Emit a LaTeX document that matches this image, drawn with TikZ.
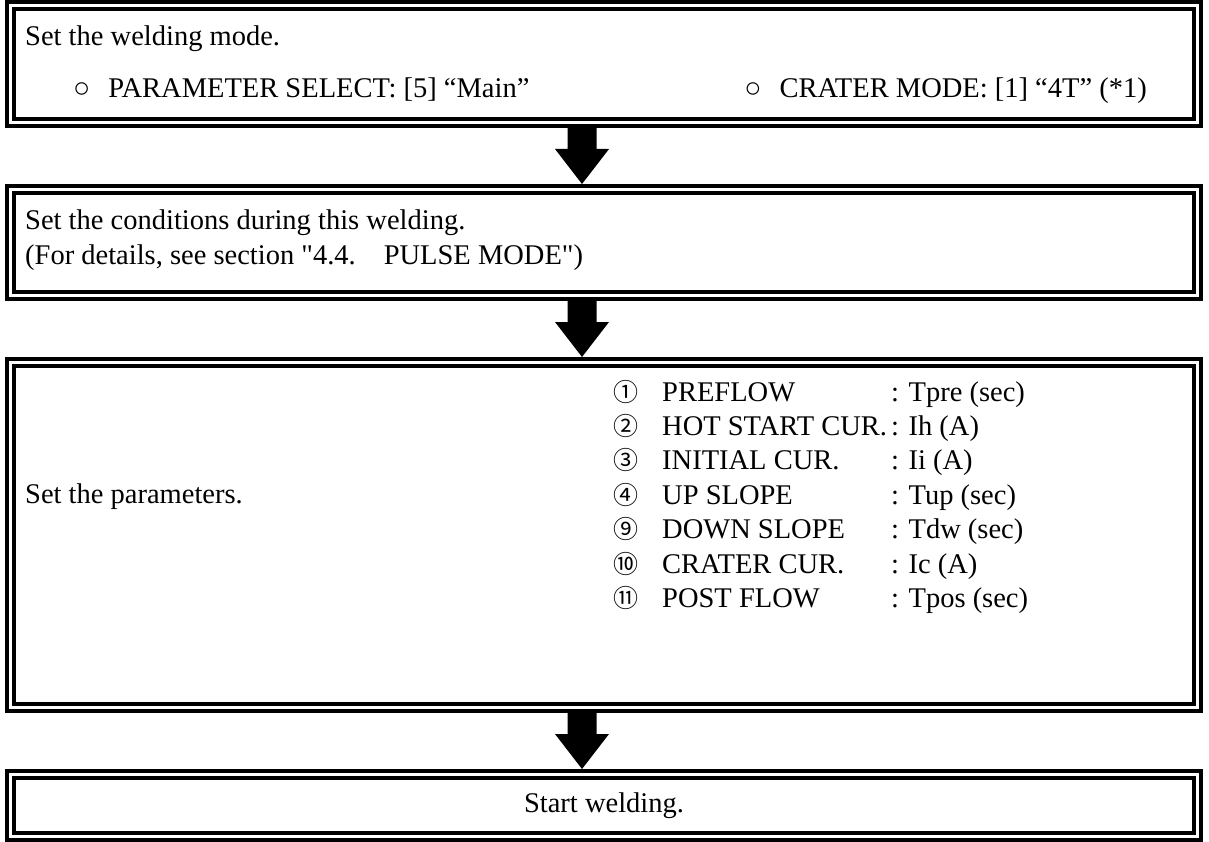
\documentclass[tikz,border=0pt]{standalone}
\usepackage{fontspec}
\setmainfont{Liberation Serif}[Ligatures=TeXOff]
\newfontfamily\cjkfont{Noto Sans CJK JP}
\usetikzlibrary{calc}

\tikzset{
  every node/.style={font=\fontsize{28.5}{34}\selectfont, inner sep=0pt},
  dbox/.style={draw, double, double distance=3pt, line width=4pt,
    minimum width=1187pt, outer sep=5.5pt},
  txt/.style={anchor=base west},
  num/.style={anchor=base west, font=\cjkfont\fontsize{25}{34}\selectfont},
}

\begin{document}
\begin{tikzpicture}[x=1pt, y=-1pt]
    \useasboundingbox (0,0) rectangle (1209,842);

    % The four boxes of the flow
    \node[dbox, minimum height=117pt] (mode)  at (604,64)    {};
    \node[dbox, minimum height=106pt] (cond)  at (604,242.5) {};
    \node[dbox, minimum height=345pt] (para)  at (604,535)   {};
    \node[dbox, minimum height=62pt]  (start) at (604,805.5) {Start welding.};

    % Welding mode
    \node[txt] (mode1) at (25,46) {Set the welding mode.};
    \node[txt] (sel) at (73,98) {○\hspace{18pt}PARAMETER SELECT: [5] “Main”};
    \node[txt, anchor=base east] (crater) at (1147,98) {○\hspace{18pt}CRATER MODE: [1] “4T” (*1)};

    % Conditions
    \node[txt] (cond1) at (25,230) {Set the conditions during this welding.};
    \node[txt] (cond2) at (25,264.5) {(For details, see section "4.4.\hspace{28pt}PULSE MODE")};

    % Parameters
    \node[txt] (para1) at (25,503) {Set the parameters.};
    \foreach \n/\name/\val [count=\i from 0] in {①/PREFLOW/Tpre (sec), ②/HOT START CUR./Ih (A),
        ③/INITIAL CUR./Ii (A), ④/UP SLOPE/Tup (sec), ⑨/DOWN SLOPE/Tdw (sec),
        ⑩/CRATER CUR./Ic (A), ⑪/POST FLOW/Tpos (sec)} {
      \node[num] (n\i) at (613,{401+34.4*\i}) {\n};
      \node[txt] (s\i) at (662,{401+34.4*\i}) {\name};
      \node[txt] (v\i) at (891,{401+34.4*\i}) {: \val};
    }

    % Block arrows between the boxes
    \coordinate (ax) at (582,0);
    \foreach \a/\b in {mode/cond, cond/para, para/start} {
      \path (\b.north -| ax) coordinate (tip) ++(0,-35) coordinate (base);
      \fill ($(\a.south -| ax)+(-14.5,0)$) -- ($(base)+(-14.5,0)$) -- ($(base)+(-27,0)$)
        -- (tip) -- ($(base)+(27,0)$) -- ($(base)+(14.5,0)$) -- ($(\a.south -| ax)+(14.5,0)$) -- cycle;
    }

\end{tikzpicture}
\end{document}
